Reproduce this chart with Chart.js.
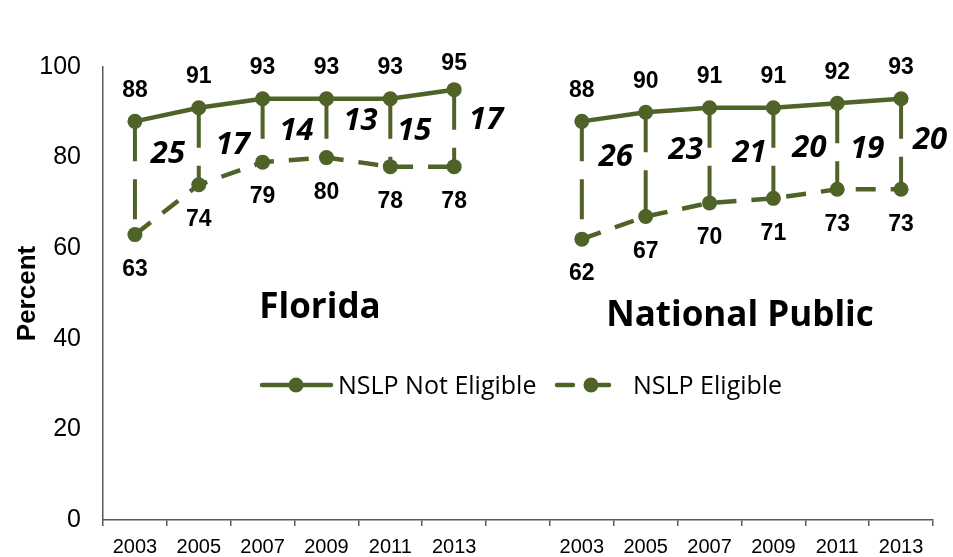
<!DOCTYPE html>
<html><head><meta charset="utf-8">
<script src="https://cdn.jsdelivr.net/npm/chart.js@4/dist/chart.umd.min.js"></script>
<style>html,body{margin:0;padding:0;background:#fff;}#wrap{width:953px;height:557px;}</style>
</head><body><div id="wrap"><canvas id="c" width="953" height="557"></canvas></div>
<script>
// ---- data ----
const years = ['2003','2005','2007','2009','2011','2013'];
const floridaNotEligible = [88, 91, 93, 93, 93, 95];
const floridaEligible = [63, 74, 79, 80, 78, 78];
const nationalNotEligible = [88, 90, 91, 91, 92, 93];
const nationalEligible = [62, 67, 70, 71, 73, 73];
const panelTitles = ['Florida', 'National Public'];
const seriesNames = ['NSLP Not Eligible', 'NSLP Eligible'];
const yTicks = [0, 20, 40, 60, 80, 100];
const yTitle = 'Percent';

// combined category axis: Florida block, empty slot, National block
const categories = [...years, '', ...years];
const notEligible = [...floridaNotEligible, null, ...nationalNotEligible];
const eligible = [...floridaEligible, null, ...nationalEligible];

// ---- styling ----
const GREEN = '#4F6228';
const AXIS = '#595959';
const ARIAL = '"Liberation Sans", Arial, sans-serif';
const SANS = '"Open Sans", "Noto Sans", sans-serif';
// pixel nudges of the gap labels relative to (line x, midpoint y)
const gapLabelNudge = [[33,-24],[34,-1],[34,1],[34,-7],[24,-2],[32,-8],null,[34,-23],[40,-14],[40,-2],[36,-5],[30,3],[29,-4]];

const overlay = {
  id: 'overlay',
  beforeDatasetsDraw(chart) {
    const {ctx, scales: {x, y}} = chart;
    ctx.save();
    ctx.strokeStyle = GREEN; ctx.lineWidth = 4; ctx.lineCap = 'butt';
    ctx.setLineDash([40, 18]);
    notEligible.forEach((v, i) => {
      if (v == null || eligible[i] == null) return;
      const px = x.getPixelForValue(i);
      ctx.beginPath();
      ctx.moveTo(px, y.getPixelForValue(v));
      ctx.lineTo(px, y.getPixelForValue(eligible[i]));
      ctx.stroke();
    });
    ctx.restore();
  },
  afterDatasetsDraw(chart) {
    const {ctx, scales: {x, y}} = chart;
    const m0 = chart.getDatasetMeta(0), m1 = chart.getDatasetMeta(1);
    ctx.save();
    ctx.fillStyle = '#000';
    ctx.textAlign = 'center'; ctx.textBaseline = 'middle';
    // value labels
    ctx.font = 'bold 23px ' + ARIAL;
    notEligible.forEach((v, i) => {
      if (v == null) return;
      const p = m0.data[i];
      ctx.fillText(String(v), p.x, Math.max(p.y - 31, 64));
    });
    eligible.forEach((v, i) => {
      if (v == null) return;
      const p = m1.data[i];
      ctx.fillText(String(v), p.x, p.y + 35);
    });
    // gap labels
    ctx.font = 'italic bold 31px ' + SANS;
    notEligible.forEach((v, i) => {
      if (v == null || eligible[i] == null) return;
      const n = gapLabelNudge[i] || [34, 0];
      const px = x.getPixelForValue(i) + n[0];
      const py = y.getPixelForValue((v + eligible[i]) / 2) + n[1];
      ctx.fillText(String(v - eligible[i]), px, py);
    });
    // panel titles
    ctx.textBaseline = 'alphabetic';
    ctx.font = 'bold 35px ' + SANS;
    ctx.fillText(panelTitles[0], 320, 318);
    ctx.fillText(panelTitles[1], 740, 326);
    // legend
    ctx.textAlign = 'left';
    ctx.font = '25px ' + SANS;
    const ly = 385;
    ctx.strokeStyle = GREEN; ctx.fillStyle = GREEN; ctx.lineWidth = 4.5; ctx.lineCap = 'round';
    ctx.beginPath(); ctx.moveTo(262, ly); ctx.lineTo(331, ly); ctx.stroke();
    ctx.beginPath(); ctx.arc(296, ly, 7.5, 0, Math.PI * 2); ctx.fill();
    ctx.setLineDash([16, 26]);
    ctx.beginPath(); ctx.moveTo(557, ly); ctx.lineTo(609, ly); ctx.stroke();
    ctx.setLineDash([]);
    ctx.beginPath(); ctx.arc(591, ly, 7.5, 0, Math.PI * 2); ctx.fill();
    ctx.fillStyle = '#000';
    ctx.fillText(seriesNames[0], 338, 394);
    ctx.fillText(seriesNames[1], 633, 394);
    ctx.restore();
  }
};

new Chart(document.getElementById('c'), {
  type: 'line',
  data: {
    labels: categories,
    datasets: [
      {label: seriesNames[0], data: notEligible, borderColor: GREEN, backgroundColor: GREEN,
       borderWidth: 4.5, pointRadius: 7.5, pointHoverRadius: 7.5, pointBorderWidth: 0, spanGaps: false, tension: 0},
      {label: seriesNames[1], data: eligible, borderColor: GREEN, backgroundColor: GREEN,
       borderWidth: 4.5, borderDash: [20, 15], pointRadius: 7.5, pointHoverRadius: 7.5, pointBorderWidth: 0, spanGaps: false, tension: 0}
    ]
  },
  options: {
    responsive: false, animation: false, devicePixelRatio: 1,
    layout: {padding: {top: 67, right: 20, left: 0, bottom: 0}},
    plugins: {legend: {display: false}, tooltip: {enabled: false}},
    scales: {
      x: {
        offset: true,
        grid: {offset: true, drawOnChartArea: false, drawTicks: true, tickLength: 6, color: AXIS, tickColor: AXIS, lineWidth: 1.5, tickWidth: 1.5},
        border: {display: true, color: AXIS, width: 1.5},
        ticks: {color: '#000', font: {family: ARIAL, size: 20}, padding: 9, maxRotation: 0, autoSkip: false},
        afterFit(s) { s.height = 34; }
      },
      y: {
        min: 0, max: 100,
        afterBuildTicks(s) { s.ticks = yTicks.map(v => ({value: v})); },
        grid: {drawOnChartArea: false, drawTicks: false},
        border: {display: true, color: AXIS, width: 1.5},
        ticks: {color: '#000', font: {family: ARIAL, size: 25}, padding: 22},
        title: {display: true, text: yTitle, color: '#000', font: {family: ARIAL, size: 26, weight: 'bold'}, padding: {top: 12, bottom: 0}},
        afterFit(s) { s.width = 103; }
      }
    }
  },
  plugins: [overlay]
});
</script>
</body></html>
